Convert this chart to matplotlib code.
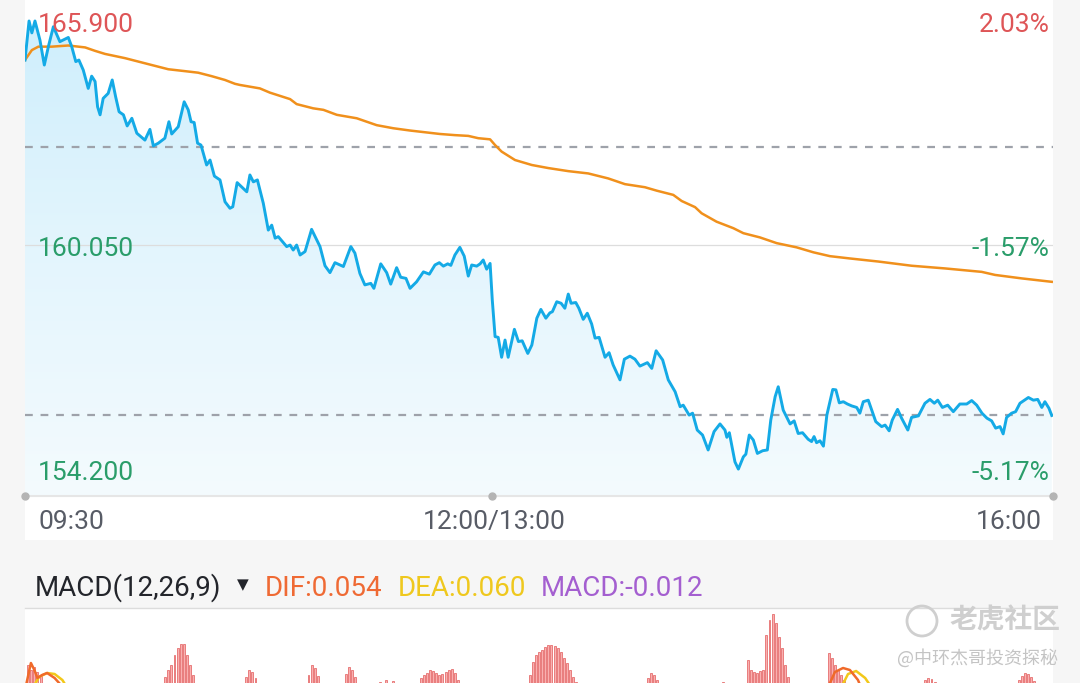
import numpy as np
import matplotlib.pyplot as plt
import matplotlib.transforms as mtransforms
from matplotlib.colors import LinearSegmentedColormap
from matplotlib.patches import Polygon, Rectangle, Ellipse

# intraday price (minutes after 09:30, lunch break removed: 150 = 12:00/13:00, 330 = 16:00)
price_min = [0, 1.3, 2.2, 3.2, 4.8, 6.2, 7.5, 9.1, 11.2, 13.9, 15.0, 16.3, 17.3, 18.7, 20.3, 21.4, 22.5,
             23.3, 24.1, 25.1, 26.7, 28.0, 29.1, 30.2, 31.6, 32.8, 34.3, 35.9, 38.5, 40.1, 41.2, 42.8,
             44.9, 46.2, 47.1, 49.2, 51.1, 52.4, 53.3, 54.3, 55.4, 56.5, 58.3, 59.4, 60.8, 62.6, 64.2,
             65.8, 66.7, 68.1, 71.2, 72.2, 73.3, 74.6, 76.5, 78.1, 79.2, 80.3, 81.3, 84.0, 85.1, 86.1,
             87.2, 88.3, 89.9, 92.0, 94.7, 96.3, 97.9, 99.5, 102.2, 104.6, 105.9, 107.5, 109.1, 111.0,
             112.0, 114.2, 116.1, 117.4, 119.3, 120.6, 122.3, 123.6, 125.7, 127.9, 129.8, 131.6, 133.0,
             134.3, 135.7, 136.7, 138.0, 139.6, 141.0, 142.3, 143.4, 145.0, 146.1, 147.1, 148.2, 149.3,
             150.0, 150.9, 151.9, 153.0, 154.1, 155.1, 157.1, 158.4, 159.6, 161.4, 162.7, 164.3, 165.6,
             167.2, 168.5, 169.3, 170.7, 172.1, 173.3, 174.4, 175.3, 176.8, 177.8, 179.2, 180.5, 181.9,
             183.0, 184.3, 186.2, 187.5, 188.8, 191.0, 192.4, 194.2, 195.8, 197.4, 199.8, 201.2, 202.6,
             204.7, 206.5, 208.7, 210.3, 211.3, 213.2, 214.3, 215.8, 217.5, 219.3, 221.2, 223.1, 224.7,
             225.3, 226.1, 227.9, 229.0, 230.6, 231.4, 232.5, 233.8, 235.1, 236.8, 238.3, 239.4, 240.8,
             241.8, 243.4, 245.6, 246.9, 248.2, 249.6, 251.4, 252.5, 253.3, 254.1, 255.2, 256.3, 257.4,
             259.3, 260.3, 261.4, 262.7, 264.0, 265.4, 267.0, 268.0, 269.1, 270.7, 271.6, 273.1, 275.0,
             276.1, 277.4, 278.4, 280.1, 281.4, 283.4, 284.6, 286.8, 288.9, 290.5, 291.9, 293.0, 294.5,
             296.2, 298.0, 300.1, 302.3, 303.9, 305.5, 307.2, 308.8, 310.3, 311.6, 313.0, 314.0, 315.1,
             316.7, 318.0, 319.4, 322.1, 323.7, 325.1, 326.4, 327.4, 328.7, 329.6]
price = [164.88, 165.90, 165.59, 165.90, 165.40, 164.75, 165.23, 165.75, 165.36, 165.47, 165.23, 164.84,
         164.88, 164.62, 164.14, 164.46, 164.32, 163.66, 163.45, 163.88, 164.01, 164.36, 163.92, 163.53,
         163.45, 163.16, 163.36, 162.97, 162.79, 163.07, 162.64, 162.71, 162.84, 163.27, 162.95, 163.14,
         163.79, 163.58, 163.27, 163.25, 162.71, 162.66, 162.14, 162.27, 161.85, 161.75, 161.18, 161.01,
         161.05, 161.68, 161.44, 161.88, 161.70, 161.75, 161.14, 160.44, 160.57, 160.23, 160.27, 160.01,
         160.05, 159.92, 160.05, 159.79, 159.88, 160.46, 160.01, 159.51, 159.33, 159.59, 159.49, 160.01,
         159.84, 159.31, 159.01, 159.05, 158.92, 159.56, 159.33, 159.03, 159.46, 159.21, 159.18, 158.92,
         159.09, 159.35, 159.29, 159.53, 159.59, 159.50, 159.56, 159.52, 159.79, 159.99, 159.76, 159.24,
         159.53, 159.50, 159.56, 159.66, 159.42, 159.57, 158.62, 157.66, 157.64, 157.12, 157.57, 157.12,
         157.85, 157.53, 157.55, 157.22, 157.44, 158.14, 158.37, 158.14, 158.28, 158.31, 158.57, 158.53,
         158.40, 158.77, 158.53, 158.55, 158.40, 158.11, 158.27, 157.99, 157.62, 157.64, 157.12, 157.24,
         156.92, 156.53, 157.07, 157.15, 157.07, 156.89, 156.98, 156.83, 157.29, 157.05, 156.53, 156.22,
         155.83, 155.87, 155.61, 155.66, 155.22, 155.09, 154.70, 155.18, 155.38, 155.22, 155.03, 155.15,
         154.39, 154.20, 154.52, 154.59, 155.09, 154.96, 154.61, 154.68, 154.70, 155.48, 156.09, 156.35,
         155.74, 155.38, 155.46, 155.13, 155.15, 154.98, 154.92, 155.05, 154.89, 154.94, 154.80, 155.61,
         156.28, 156.27, 155.93, 155.96, 155.90, 155.85, 155.81, 155.66, 155.96, 156.00, 155.79, 155.44,
         155.31, 155.35, 155.20, 155.48, 155.76, 155.53, 155.22, 155.55, 155.59, 155.92, 156.02, 155.92,
         156.00, 155.81, 155.87, 155.70, 155.90, 155.90, 155.99, 155.87, 155.66, 155.53, 155.46, 155.27,
         155.31, 155.12, 155.55, 155.66, 155.70, 155.92, 156.07, 156.00, 156.02, 155.81, 155.96, 155.79,
         155.60]

# average price line
avg_min = [0, 2.2, 4.3, 8.6, 13.9, 19.3, 22.5, 25.7, 32.1, 36.4, 40.7, 46.0, 51.4, 55.6, 59.9, 64.2,
           67.4, 69.0, 75.4, 78.6, 85.1, 87.2, 92.5, 95.8, 100.1, 106.5, 112.9, 118.2, 123.6, 130.0,
           133.2, 138.0, 142.3, 145.5, 149.3, 150.9, 153.0, 157.3, 162.7, 168.0, 174.4, 180.8, 187.2,
           192.6, 199.0, 202.8, 208.1, 210.8, 215.1, 217.2, 222.0, 227.4, 230.6, 235.9, 241.3, 247.7,
           253.1, 258.4, 264.8, 273.9, 284.6, 295.3, 307.1, 311.4, 319.9, 329.6]
avg_price = [164.88, 165.14, 165.23, 165.23, 165.26, 165.21, 165.12, 165.04, 164.93, 164.84, 164.75,
             164.64, 164.59, 164.55, 164.46, 164.36, 164.26, 164.23, 164.14, 164.03, 163.86, 163.73,
             163.62, 163.58, 163.45, 163.36, 163.18, 163.10, 163.04, 162.98, 162.95, 162.92, 162.90,
             162.84, 162.81, 162.66, 162.49, 162.27, 162.14, 162.06, 161.98, 161.92, 161.79, 161.64,
             161.56, 161.47, 161.36, 161.20, 161.04, 160.88, 160.66, 160.49, 160.36, 160.25, 160.10,
             159.99, 159.86, 159.76, 159.70, 159.62, 159.51, 159.44, 159.35, 159.27, 159.18, 159.09]

prev_close = 162.60
high_label, low_label = 165.90, 154.20
pct_labels = ['2.03%', '-1.57%', '-5.17%']
time_labels = ['09:30', '12:00/13:00', '16:00']
time_ticks = [0, 150, 330]

# MACD histogram (only the upper part of the panel is visible in the screenshot)
hist_min = [1, 2, 3, 4, 5,
            45, 46, 47, 48, 49, 50, 51, 52, 53, 54,
            71, 72, 73, 74,
            91, 92, 93, 94,
            103, 104, 105, 106,
            114, 116, 118, 119,
            127, 128, 129, 130, 131, 132, 133, 134, 135, 136, 137, 138, 139,
            162, 163, 164, 165, 166, 167, 168, 169, 170, 171, 172, 173, 174, 175, 176, 177,
            200, 201, 202, 203,
            224,
            232, 233, 234, 235, 236, 237,
            238, 239, 240, 241, 242, 243, 244, 245,
            258, 259, 260, 261, 262, 263,
            289, 290, 291, 292,
            319, 320, 321, 322, 323, 324]
hist_val = [0.105, 0.100, 0.103, 0.098, 0.095,
            0.093, 0.100, 0.105, 0.115, 0.122, 0.126, 0.126, 0.115, 0.105, 0.095,
            0.093, 0.100, 0.098, 0.092,
            0.095, 0.105, 0.102, 0.094,
            0.096, 0.103, 0.100, 0.093,
            0.088, 0.090, 0.089, 0.087,
            0.092, 0.095, 0.097, 0.100, 0.099, 0.097, 0.095, 0.096, 0.098, 0.100, 0.101, 0.097, 0.090,
            0.095, 0.108, 0.115, 0.118, 0.120, 0.123, 0.125, 0.125, 0.124, 0.122, 0.118, 0.112, 0.107, 0.100, 0.093, 0.088,
            0.092, 0.097, 0.095, 0.090,
            0.088,
            0.110, 0.100, 0.098, 0.097, 0.099, 0.100,
            0.135, 0.150, 0.156, 0.147, 0.133, 0.122, 0.105, 0.093,
            0.117, 0.112, 0.105, 0.100, 0.095, 0.090,
            0.090, 0.092, 0.091, 0.088,
            0.090, 0.094, 0.097, 0.096, 0.093, 0.089]

# DIF / DEA where they rise into view
dif_open_min = [0, 1.9, 3.0, 4.0, 5.5, 7.1, 9.5, 12.4]
dif_open = [0.080, 0.107, 0.100, 0.092, 0.095, 0.097, 0.092, 0.082]
dea_open_min = [3.0, 4.5, 7.1, 9.5, 12.0, 14.4]
dea_open = [0.085, 0.093, 0.097, 0.096, 0.090, 0.078]
dif_pm_min = [257.4, 260.0, 262.6, 264.8, 267.4, 268.7]
dif_pm = [0.080, 0.098, 0.102, 0.100, 0.090, 0.080]
dea_pm_min = [261.6, 264.2, 266.8, 269.7, 272.3]
dea_pm = [0.080, 0.096, 0.099, 0.092, 0.080]

W, H = 1080, 683
plt.rcParams['font.family'] = ['Roboto', 'DejaVu Sans']
fig = plt.figure(figsize=(W / 100, H / 100), dpi=100, facecolor='#f6f6f6')


def px(x0, y0, x1, y1):
    # pixel box (top-left origin) -> figure fraction rect
    return [x0 / W, 1 - y1 / H, (x1 - x0) / W, (y1 - y0) / H]


# white panels (behind the axes)
fig.patches.append(Rectangle((25 / W, 1 - 540 / H), 1028 / W, 540 / H, transform=fig.transFigure,
                             facecolor='white', edgecolor='none', zorder=-5))
fig.patches.append(Rectangle((25 / W, 0), 1028 / W, 1 - 609 / H, transform=fig.transFigure,
                             facecolor='white', edgecolor='none', zorder=-5))
fig.add_artist(plt.Line2D([25 / W, 1053 / W], [1 - 608 / H] * 2, color='#dcdcdc', lw=1, zorder=-4))

# ---- price panel ----
ax = fig.add_axes(px(25, 0, 1053, 495.7))
ax.set_facecolor('none')
ylo, yhi = 153.506, 166.448
ax.set_xlim(0, 330)
ax.set_ylim(ylo, yhi)
ax.axis('off')

cmap = LinearSegmentedColormap.from_list('fade', ['#f4fbfe', '#e3f5fd', '#cdeefc'])
grad = np.linspace(0, 1, 256).reshape(-1, 1)
im = ax.imshow(grad, extent=[0, 330, ylo, yhi], origin='lower', aspect='auto', cmap=cmap, zorder=1)
verts = np.column_stack([np.r_[price_min[0], price_min, price_min[-1]],
                         np.r_[ylo, price, ylo]])
clip = Polygon(verts, closed=True, facecolor='none', edgecolor='none', transform=ax.transData)
ax.add_patch(clip)
im.set_clip_path(clip)

mid = (high_label + low_label) / 2
dash = (0, (3.5, 3.5))
ax.axhline(mid, color='#dddddd', lw=0.9, zorder=2)
ax.axhline(prev_close, color='#9ea2aa', lw=1.6, ls=dash, zorder=2)
ax.axhline(price[-1], color='#9ea2aa', lw=1.6, ls=dash, zorder=2)
ax.axhline(ylo, color='#e6e6e6', lw=1.5, zorder=2, clip_on=False)
for t in time_ticks:
    ax.plot(t, ylo, 'o', ms=5, color='#b4b4b4', zorder=3, clip_on=False)

ax.plot(avg_min, avg_price, color='#f0901c', lw=1.8, zorder=4)
ax.plot(price_min, price, color='#14aae6', lw=2.1, zorder=5, solid_joinstyle='round')

# labels sit slightly below the matplotlib "center" so the digits look centred
lab_tf = mtransforms.offset_copy(ax.transData, fig=fig, y=-4, units='dots')
red, green = '#de5557', '#2a9d6a'
fs = 19
for val, col in [(high_label, red), (mid, green), (low_label, green)]:
    ax.text(4.2, val, f'{val:.3f}', color=col, fontsize=fs, va='center', ha='left', zorder=6,
            transform=lab_tf)
for val, lab, col in [(high_label, pct_labels[0], red), (mid, pct_labels[1], green),
                      (low_label, pct_labels[2], green)]:
    ax.text(328.8, val, lab, color=col, fontsize=fs, va='center', ha='right', zorder=6,
            transform=lab_tf)

tcol = '#585c66'
ty = 1 - 522 / H
fig.text(38 / W, ty, time_labels[0], color=tcol, fontsize=fs, va='center', ha='left')
fig.text(494 / W, ty, time_labels[1], color=tcol, fontsize=fs, va='center', ha='center')
fig.text(1042 / W, ty, time_labels[2], color=tcol, fontsize=fs, va='center', ha='right')

# ---- MACD header ----
hy = 1 - 588 / H
hfs = 20
fig.text(35 / W, hy, 'MACD(12,26,9)', color='#23252b', fontsize=hfs, va='center')
fig.text(237 / W, 1 - 585 / H, '▼', color='#23252b', fontsize=11, va='center', family=['DejaVu Sans'])
fig.text(265 / W, hy, 'DIF:0.054', color='#ef6a34', fontsize=hfs, va='center')
fig.text(398 / W, hy, 'DEA:0.060', color='#efc81e', fontsize=hfs, va='center')
fig.text(541 / W, hy, 'MACD:-0.012', color='#a45fd0', fontsize=hfs, va='center')

# ---- MACD panel (extends below the visible area) ----
mx = fig.add_axes(px(25, 610, 1053, 770))
mx.set_facecolor('none')
mx.set_xlim(0, 330)
mx.set_ylim(0, 0.16)
mx.axis('off')
mx.bar(hist_min, hist_val, width=0.62, color='#f9b0b0', edgecolor='#e25a5a', lw=0.5)
mx.plot(dea_open_min, dea_open, color='#f2c81a', lw=1.8)
mx.plot(dif_open_min, dif_open, color='#f06a2a', lw=1.8)
mx.plot(dea_pm_min, dea_pm, color='#f2c81a', lw=1.8)
mx.plot(dif_pm_min, dif_pm, color='#f06a2a', lw=1.8)

# watermark
fig.patches.append(Ellipse((922 / W, 1 - 621 / H), 30 / W, 30 / H, transform=fig.transFigure,
                           facecolor='none', edgecolor='#cfcfcf', lw=2))
fig.text(950 / W, 1 - 621 / H, '老虎社区', color='#cfcfcf', fontsize=20, va='center',
         family=['Noto Sans CJK SC'], fontweight='bold')
fig.text(1058 / W, 1 - 658 / H, '@中环杰哥投资探秘', color='#c4c4c4', fontsize=13, va='center', ha='right',
         family=['Noto Sans CJK SC'])

fig.savefig('out.png', dpi=100, facecolor=fig.get_facecolor())
